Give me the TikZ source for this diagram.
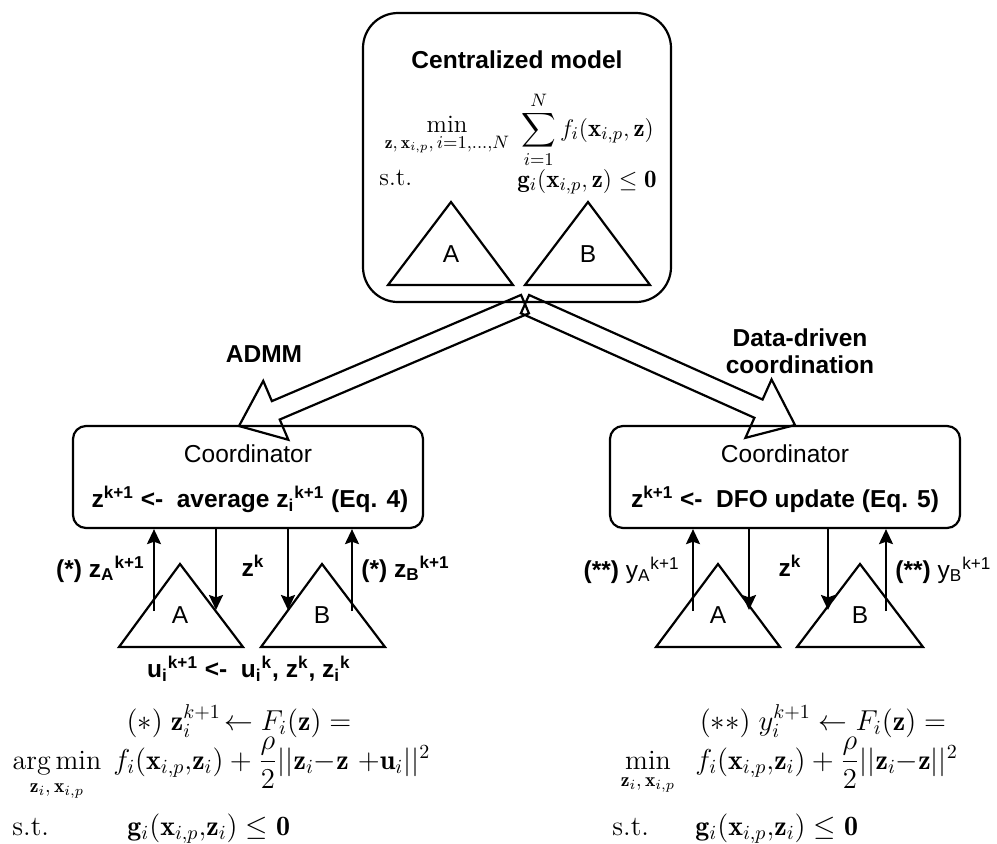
\documentclass[tikz,border=0pt]{standalone}
\usepackage{amsmath}
\usepackage{fontspec}
\setsansfont{Liberation Sans}
\usetikzlibrary{calc,arrows.meta}

\newcommand\sps[1]{\textsuperscript{#1}}
\newcommand\sbs[1]{\textsubscript{#1}}

% hollow block arrow from a tail point to a tip point
\newcommand\fatarrow[3]{%
  \coordinate (#3-b) at ($(#2)!20pt!(#1)$);
  \draw[fat] ($(#1)!5pt!90:(#2)$) -- ($(#3-b)!5pt!90:(#2)$)
    -- ($(#3-b)!16pt!90:(#2)$) -- (#2) -- ($(#3-b)!16pt!-90:(#2)$)
    -- ($(#3-b)!5pt!-90:(#2)$) -- ($(#1)!5pt!-90:(#2)$) -- cycle;}

\tikzset{
  sf/.style={font=\sffamily\fontsize{12.25}{14.7}\selectfont, inner sep=0pt},
  sfb/.style={font=\sffamily\bfseries\fontsize{12.25}{14.7}\selectfont, inner sep=0pt},
  mtop/.style={font=\fontsize{12.5}{15}\selectfont, inner sep=0pt},
  mbot/.style={font=\fontsize{14}{17}\selectfont, inner sep=0pt},
  panel/.style={draw, line width=1.1pt, inner sep=0pt},
  fat/.style={draw, line width=1.1pt, line join=miter},
  flow/.style={line width=1.1pt, -{Stealth[length=7.5pt,width=7pt,inset=1.2pt]}},
  agent/.style={draw, line width=1.1pt, line join=miter},
}

\begin{document}
\begin{tikzpicture}[x=0.5pt, y=-0.5pt]
\useasboundingbox (0,0) rectangle (997,843);

% ---- centralized model ----
\node[panel, rounded corners=17.5pt, minimum width=154pt, minimum height=144.5pt] (top) at (517,157.5) {};
\node[sfb, anchor=base] (title) at (517,68) {Centralized model};
\node[mtop, anchor=base] (cmin) at (447,132) {$\displaystyle\min_{\mathbf{z},\,\mathbf{x}_{i,p},\,i=1,\ldots,N}$};
\node[mtop, anchor=base west] (csum) at (521,136) {$\displaystyle\sum_{i=1}^{N} f_i(\mathbf{x}_{i,p},\mathbf{z})$};
\node[mtop, anchor=base west] (cst) at (379,185) {s.t.};
\node[mtop, anchor=base west] (cg) at (517,187) {$\mathbf{g}_i(\mathbf{x}_{i,p},\mathbf{z}) \le \mathbf{0}$};
\draw[agent] (388,285) -- (451,202) -- (513,285) -- cycle;
\draw[agent] (525,285) -- (588,202) -- (650,285) -- cycle;
\node[sf, anchor=base] (cA) at (451,262) {A};
\node[sf, anchor=base] (cB) at (588,262) {B};

% ---- coordinators ----
\node[panel, rounded corners=6.5pt, minimum width=175pt, minimum height=51pt] (cl) at (248,477) {};
\node[panel, rounded corners=6.5pt, minimum width=175pt, minimum height=51pt] (cr) at (785,477) {};
\node[sf, anchor=base] (clt) at (248,462) {Coordinator};
\node[sfb, anchor=base] (clu) at (250,507) {z\sps{k+1} <-\ \ average z\sbs{i}\sps{k+1} (Eq. 4)};
\node[sf, anchor=base] (crt) at (785,462) {Coordinator};
\node[sfb, anchor=base] (cru) at (785,507) {z\sps{k+1} <-\ \ DFO update (Eq. 5)};

% ---- block arrows ----
\coordinate (tail) at ($(top.south)+(8,1)$);
\coordinate (tipL) at (239,426);
\coordinate (tipR) at (795,425);
\fatarrow{tail}{tipL}{fl}
\fatarrow{tail}{tipR}{fr}
\node[sfb, anchor=base] (admm) at (264,362) {ADMM};
\node[sfb, anchor=base, align=center] (ddc) at (800,373) {Data-driven\\[-1.5pt]coordination};

% ---- subsystems ----
\draw[agent] (119,647) -- (180,564) -- (243,647) -- cycle;
\draw[agent] (261,647) -- (322,564) -- (385,647) -- cycle;
\draw[agent] (656,647) -- (718,564) -- (780,647) -- cycle;
\draw[agent] (797,647) -- (860,564) -- (923,647) -- cycle;
\node[sf, anchor=base] (lA) at (180,623) {A};
\node[sf, anchor=base] (lB) at (322,623) {B};
\node[sf, anchor=base] (rA) at (718,623) {A};
\node[sf, anchor=base] (rB) at (860,623) {B};

% ---- exchanges ----
\coordinate (l1) at (154,611);
\coordinate (l2) at (216,610);
\coordinate (l3) at (288,610);
\coordinate (l4) at (352,611);
\coordinate (r1) at (693,611);
\coordinate (r2) at (749,610);
\coordinate (r3) at (828,610);
\coordinate (r4) at (886,611);
\draw[flow] (l1) -- (l1 |- cl.south);
\draw[flow] (l2 |- cl.south) -- (l2);
\draw[flow] (l3 |- cl.south) -- (l3);
\draw[flow] (l4) -- (l4 |- cl.south);
\draw[flow] (r1) -- (r1 |- cr.south);
\draw[flow] (r2 |- cr.south) -- (r2);
\draw[flow] (r3 |- cr.south) -- (r3);
\draw[flow] (r4) -- (r4 |- cr.south);

\node[sfb, anchor=base east] (lzA) at (145,577) {(*) z\sbs{A}\sps{k+1}};
\node[sfb, anchor=base] (lzk) at (253,576) {z\sps{k}};
\node[sfb, anchor=base west] (lzB) at (361,577) {(*) z\sbs{B}\sps{k+1}};
\node[sf, anchor=base east] (ryA) at (680,578) {\textbf{(**)} y\sbs{A}\sps{k+1}};
\node[sfb, anchor=base] (rzk) at (790,576) {z\sps{k}};
\node[sf, anchor=base west] (ryB) at (895,578) {\textbf{(**)} y\sbs{B}\sps{k+1}};

\node[sfb, anchor=base] (dual) at (249,677) {u\sbs{i}\sps{k+1} <-\ \ u\sbs{i}\sps{k}, z\sps{k}, z\sbs{i}\sps{k}};

% ---- local problems ----
\node[mbot, anchor=base] (le1) at (239,730) {$(*)\;\mathbf{z}_i^{k+1}\!\leftarrow F_i(\mathbf{z}) =$};
\node[mbot, anchor=base] (lmin) at (57,769) {$\displaystyle\operatorname*{arg\,min}_{\mathbf{z}_i,\,\mathbf{x}_{i,p}}$};
\node[mbot, anchor=base west] (lf) at (113,769) {$f_i(\mathbf{x}_{i,p},\!\mathbf{z}_i) + \dfrac{\rho}{2}||\mathbf{z}_i{-}\mathbf{z}\ {+}\mathbf{u}_i||^2$};
\node[mbot, anchor=base west] (lst) at (12,835) {s.t.};
\node[mbot, anchor=base west] (lg) at (127,835) {$\mathbf{g}_i(\mathbf{x}_{i,p},\!\mathbf{z}_i) \le \mathbf{0}$};

\node[mbot, anchor=base] (re1) at (823,730) {$(**)\;y_i^{k+1} \leftarrow F_i(\mathbf{z}) =$};
\node[mbot, anchor=base] (rmin) at (648,769) {$\displaystyle\min_{\mathbf{z}_i,\,\mathbf{x}_{i,p}}$};
\node[mbot, anchor=base west] (rf) at (695,769) {$f_i(\mathbf{x}_{i,p},\!\mathbf{z}_i) + \dfrac{\rho}{2}||\mathbf{z}_i{-}\mathbf{z}||^2$};
\node[mbot, anchor=base west] (rst) at (612,835) {s.t.};
\node[mbot, anchor=base west] (rg) at (695,835) {$\mathbf{g}_i(\mathbf{x}_{i,p},\!\mathbf{z}_i) \le \mathbf{0}$};
\end{tikzpicture}
\end{document}
